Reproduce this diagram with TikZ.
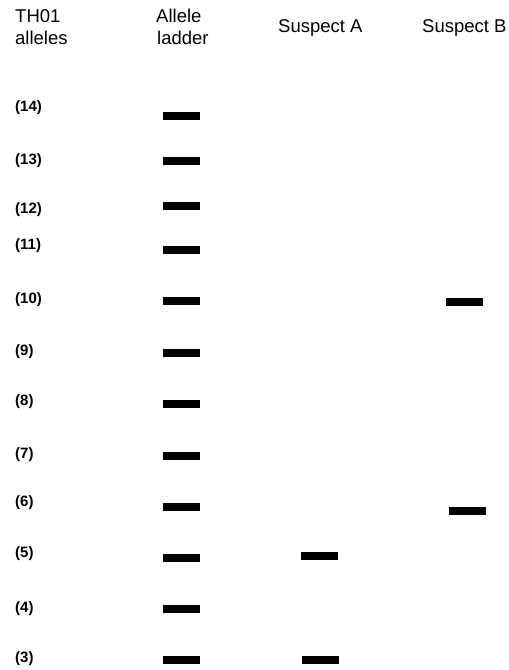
\documentclass[tikz,border=0pt]{standalone}
\usepackage{fontspec}
\setmainfont{Liberation Sans}
\begin{document}
\begin{tikzpicture}[x=1bp,y=-1bp,
  hdr/.style={anchor=base west,inner sep=0pt,font=\fontsize{18.5bp}{22.3bp}\selectfont},
  lbl/.style={anchor=west,inner sep=0pt,font=\fontsize{15bp}{18bp}\selectfont\bfseries},
  band/.style={fill=black,draw=none,rectangle,minimum width=37bp,minimum height=8bp,inner sep=0pt}]
\useasboundingbox[fill=white] (0,0) rectangle (509,670);
% headers
\node[hdr] (h1a) at (15,22.7) {TH01};
\node[hdr] (h1b) at (15,45) {alleles};
\node[hdr] (h2a) at (156,22.7) {Allele};
\node[hdr] (h2b) at (157,45) {ladder};
\node[hdr] (h3) at (278,32.5) {Suspect A};
\node[hdr] (h4) at (422,32.5) {Suspect B};
% allele labels
\node[lbl] (l14) at (15,108) {(14)};
\node[lbl] (l13) at (15,161) {(13)};
\node[lbl] (l12) at (15,210) {(12)};
\node[lbl] (l11) at (15,245.5) {(11)};
\node[lbl] (l10) at (15,300) {(10)};
\node[lbl] (l9) at (15,352) {(9)};
\node[lbl] (l8) at (15,402) {(8)};
\node[lbl] (l7) at (15,455) {(7)};
\node[lbl] (l6) at (15,503) {(6)};
\node[lbl] (l5) at (15,554) {(5)};
\node[lbl] (l4) at (15,609) {(4)};
\node[lbl] (l3) at (15,659) {(3)};
% ladder bands
\node[band] (b14) at (181.5,116) {};
\node[band] (b13) at (181.5,161) {};
\node[band] (b12) at (181.5,205.5) {};
\node[band] (b11) at (181.5,249.5) {};
\node[band] (b10) at (181.5,301) {};
\node[band] (b9) at (181.5,353) {};
\node[band] (b8) at (181.5,404) {};
\node[band] (b7) at (181.5,456) {};
\node[band] (b6) at (181.5,506.5) {};
\node[band] (b5) at (181.5,558) {};
\node[band] (b4) at (181.5,608.5) {};
\node[band] (b3) at (181.5,660) {};
% suspect A
\node[band] (a5) at (319,555.5) {};
\node[band] (a3) at (320,660) {};
% suspect B
\node[band] (s10) at (464.5,301.5) {};
\node[band] (s6) at (467.5,511) {};
\end{tikzpicture}
\end{document}
